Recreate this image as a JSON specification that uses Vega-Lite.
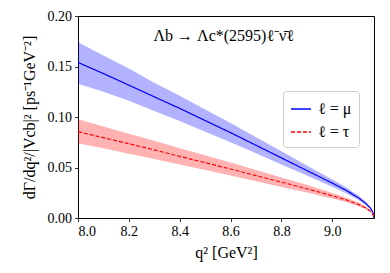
{
  "$schema": "https://vega.github.io/schema/vega-lite/v6.json",
  "width": 296,
  "height": 202,
  "autosize": {"type": "none"},
  "padding": {"left": 78, "top": 16, "right": 16, "bottom": 55},
  "background": "white",
  "config": {
    "font": "'Liberation Serif', 'Times New Roman', serif",
    "view": {"stroke": "black", "strokeWidth": 1},
    "axis": {
      "domain": false,
      "grid": false,
      "tickColor": "black",
      "tickSize": 3.5,
      "tickWidth": 0.8,
      "labelFont": "'Liberation Serif', 'Times New Roman', serif",
      "labelFontSize": 14,
      "labelColor": "black",
      "labelPadding": 3,
      "titleFont": "'Liberation Serif', 'Times New Roman', serif",
      "titleFontSize": 16,
      "titleFontWeight": "normal",
      "titleColor": "black"
    },
    "legend": {
      "labelFont": "'Liberation Serif', 'Times New Roman', serif",
      "labelFontSize": 16,
      "labelColor": "black"
    }
  },
  "datasets": {
    "curves": [
      {"q2": 8.0, "series": "ℓ = μ", "y": 0.154, "lo": 0.133, "hi": 0.174},
      {"q2": 8.1, "series": "ℓ = μ", "y": 0.143, "lo": 0.125, "hi": 0.161},
      {"q2": 8.2, "series": "ℓ = μ", "y": 0.1315, "lo": 0.116, "hi": 0.148},
      {"q2": 8.3, "series": "ℓ = μ", "y": 0.120, "lo": 0.106, "hi": 0.134},
      {"q2": 8.4, "series": "ℓ = μ", "y": 0.1085, "lo": 0.096, "hi": 0.121},
      {"q2": 8.5, "series": "ℓ = μ", "y": 0.0965, "lo": 0.0855, "hi": 0.1075},
      {"q2": 8.6, "series": "ℓ = μ", "y": 0.0845, "lo": 0.075, "hi": 0.094},
      {"q2": 8.7, "series": "ℓ = μ", "y": 0.072, "lo": 0.064, "hi": 0.080},
      {"q2": 8.8, "series": "ℓ = μ", "y": 0.0595, "lo": 0.053, "hi": 0.066},
      {"q2": 8.9, "series": "ℓ = μ", "y": 0.047, "lo": 0.042, "hi": 0.052},
      {"q2": 9.0, "series": "ℓ = μ", "y": 0.0345, "lo": 0.031, "hi": 0.038},
      {"q2": 9.05, "series": "ℓ = μ", "y": 0.028, "lo": 0.025, "hi": 0.031},
      {"q2": 9.1, "series": "ℓ = μ", "y": 0.0205, "lo": 0.0183, "hi": 0.0227},
      {"q2": 9.13, "series": "ℓ = μ", "y": 0.0148, "lo": 0.0132, "hi": 0.0164},
      {"q2": 9.15, "series": "ℓ = μ", "y": 0.0098, "lo": 0.0088, "hi": 0.0108},
      {"q2": 9.16, "series": "ℓ = μ", "y": 0.0055, "lo": 0.005, "hi": 0.006},
      {"q2": 9.164, "series": "ℓ = μ", "y": 0.0, "lo": 0.0, "hi": 0.0},
      {"q2": 8.0, "series": "ℓ = τ", "y": 0.0855, "lo": 0.074, "hi": 0.0977},
      {"q2": 8.1, "series": "ℓ = τ", "y": 0.0795, "lo": 0.069, "hi": 0.0905},
      {"q2": 8.2, "series": "ℓ = τ", "y": 0.0735, "lo": 0.0637, "hi": 0.0835},
      {"q2": 8.3, "series": "ℓ = τ", "y": 0.0675, "lo": 0.0585, "hi": 0.0765},
      {"q2": 8.4, "series": "ℓ = τ", "y": 0.061, "lo": 0.053, "hi": 0.069},
      {"q2": 8.5, "series": "ℓ = τ", "y": 0.0548, "lo": 0.0475, "hi": 0.0621},
      {"q2": 8.6, "series": "ℓ = τ", "y": 0.0485, "lo": 0.042, "hi": 0.055},
      {"q2": 8.7, "series": "ℓ = τ", "y": 0.042, "lo": 0.0364, "hi": 0.0476},
      {"q2": 8.8, "series": "ℓ = τ", "y": 0.0355, "lo": 0.0308, "hi": 0.0402},
      {"q2": 8.9, "series": "ℓ = τ", "y": 0.029, "lo": 0.0252, "hi": 0.0328},
      {"q2": 9.0, "series": "ℓ = τ", "y": 0.022, "lo": 0.0192, "hi": 0.0248},
      {"q2": 9.05, "series": "ℓ = τ", "y": 0.0183, "lo": 0.016, "hi": 0.0206},
      {"q2": 9.1, "series": "ℓ = τ", "y": 0.0138, "lo": 0.012, "hi": 0.0156},
      {"q2": 9.13, "series": "ℓ = τ", "y": 0.0102, "lo": 0.0089, "hi": 0.0115},
      {"q2": 9.15, "series": "ℓ = τ", "y": 0.0068, "lo": 0.006, "hi": 0.0076},
      {"q2": 9.16, "series": "ℓ = τ", "y": 0.0038, "lo": 0.0034, "hi": 0.0042},
      {"q2": 9.164, "series": "ℓ = τ", "y": 0.0, "lo": 0.0, "hi": 0.0}
    ],
    "label": [
      {"q2": 8.573, "y": 0.18, "text": "Λb → Λc*(2595)ℓ⁻ν̄ℓ"}
    ]
  },
  "encoding": {
    "x": {"field": "q2", "type": "quantitative",
          "scale": {"domain": [8.0, 9.164], "nice": false, "zero": false},
          "axis": {"values": [8.0, 8.2, 8.4, 8.6, 8.8, 9.0], "format": ".1f", "title": "q²  [GeV²]", "titlePadding": 6}}
  },
  "layer": [
    {
      "data": {"name": "curves"},
      "transform": [{"filter": "datum.series === 'ℓ = μ'"}],
      "mark": {"type": "area", "color": "#0000ff", "fillOpacity": 0.3, "clip": true},
      "encoding": {
        "y": {"field": "lo", "type": "quantitative",
              "scale": {"domain": [0, 0.2], "nice": false},
              "axis": {"values": [0, 0.05, 0.1, 0.15, 0.2], "format": ".2f", "title": "dΓ/dq²/|Vcb|²  [ps⁻¹GeV⁻²]", "titlePadding": 10}},
        "y2": {"field": "hi"}
      }
    },
    {
      "data": {"name": "curves"},
      "transform": [{"filter": "datum.series === 'ℓ = τ'"}],
      "mark": {"type": "area", "color": "#ff0000", "fillOpacity": 0.3, "clip": true},
      "encoding": {
        "y": {"field": "lo", "type": "quantitative"},
        "y2": {"field": "hi"}
      }
    },
    {
      "data": {"name": "curves"},
      "mark": {"type": "line", "strokeWidth": 1.2, "clip": true},
      "encoding": {
        "y": {"field": "y", "type": "quantitative"},
        "color": {"field": "series", "type": "nominal",
                  "scale": {"domain": ["ℓ = μ", "ℓ = τ"], "range": ["#0000ff", "#ff0000"]},
                  "legend": {"title": null, "orient": "none", "legendX": 205, "legendY": 75,
                             "symbolType": "stroke", "symbolSize": 400, "symbolStrokeWidth": 1.3,
                             "padding": 7, "rowPadding": 4, "labelOffset": 6,
                             "fillColor": "white", "strokeColor": "#cccccc", "cornerRadius": 3}},
        "strokeDash": {"field": "series", "type": "nominal",
                       "scale": {"domain": ["ℓ = μ", "ℓ = τ"], "range": [[1, 0], [4, 2]]},
                       "legend": {"title": null, "orient": "none", "legendX": 205, "legendY": 75,
                             "symbolType": "stroke", "symbolSize": 400, "symbolStrokeWidth": 1.3,
                             "padding": 7, "rowPadding": 4, "labelOffset": 6,
                             "fillColor": "white", "strokeColor": "#cccccc", "cornerRadius": 3}}
      }
    },
    {
      "data": {"name": "label"},
      "mark": {"type": "text", "fontSize": 16, "color": "black", "baseline": "middle", "align": "center"},
      "encoding": {
        "y": {"field": "y", "type": "quantitative"},
        "text": {"field": "text"}
      }
    }
  ]
}
